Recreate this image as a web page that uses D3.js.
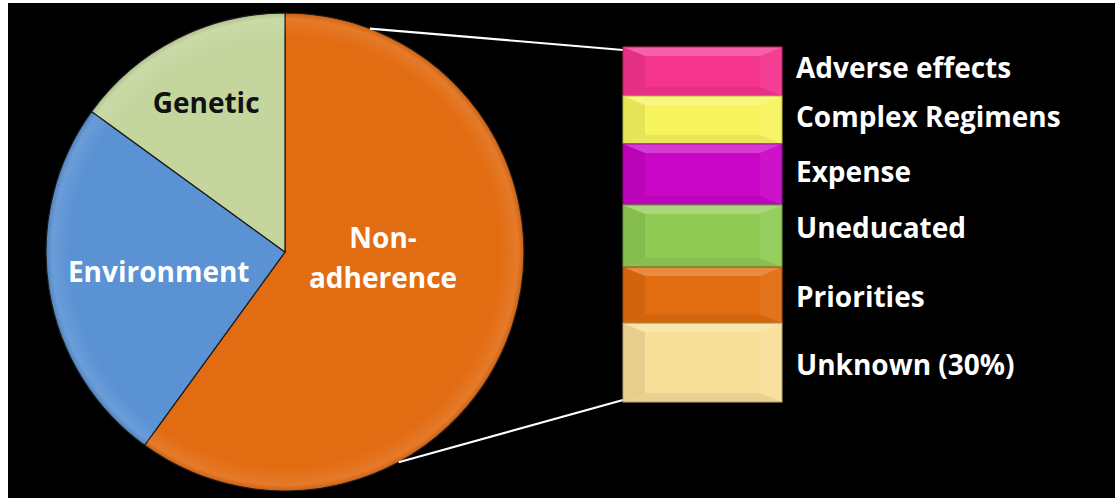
<!DOCTYPE html>
<html>
<head>
<meta charset="utf-8">
<script src="https://cdn.jsdelivr.net/npm/d3@7"></script>
<style>
  html, body { margin: 0; padding: 0; background: #ffffff; }
  svg { display: block; }
  text { font-family: "Open Sans", "Noto Sans", sans-serif; font-weight: 700; }
</style>
</head>
<body>
<svg id="chart" width="1115" height="498"></svg>
<script>
// ---- data ----
const pieCategories = ["Non-adherence", "Environment", "Genetic"];
const pieValues = [60, 25, 15];
const pieColors = ["#E26C12", "#5A92D4", "#C4D69E"];
const pieLabelColors = ["#ffffff", "#ffffff", "#111111"];

const barCategories = ["Adverse effects", "Complex Regimens", "Expense", "Uneducated", "Priorities", "Unknown (30%)"];
const barValues = [13.8, 13.5, 17.2, 17.5, 15.8, 22.2];
const barColors = ["#F5348E", "#F7F55E", "#C905C6", "#90CC55", "#E26C10", "#F8DF98"];

// ---- layout ----
const W = 1115, H = 498;
const svg = d3.select("#chart");
svg.append("rect").attr("x", 8).attr("y", 3).attr("width", W - 8).attr("height", H - 3).attr("fill", "#000");

const cx = 285, cy = 252, R = 239;
const defs = svg.append("defs");

const pie = d3.pie().sort(null).startAngle(0).endAngle(2 * Math.PI);
const arcs = pie(pieValues);
const arc = d3.arc().innerRadius(0).outerRadius(R);

const gPie = svg.append("g").attr("transform", `translate(${cx},${cy})`);
gPie.selectAll("path.slice").data(arcs).join("path")
  .attr("class", "slice")
  .attr("d", arc)
  .attr("fill", (d, i) => pieColors[i])
  .attr("stroke", "#1a1a1a").attr("stroke-width", 1.2);

const rg2 = defs.append("radialGradient").attr("id", "rimLocal")
  .attr("gradientUnits", "userSpaceOnUse").attr("cx", 0).attr("cy", 0).attr("r", R);
rg2.append("stop").attr("offset", "0.90").attr("stop-color", "#fff").attr("stop-opacity", 0);
rg2.append("stop").attr("offset", "0.975").attr("stop-color", "#fff").attr("stop-opacity", 0.10);
rg2.append("stop").attr("offset", "1").attr("stop-color", "#000").attr("stop-opacity", 0.10);
gPie.selectAll("path.rim").data(arcs).join("path")
  .attr("class", "rim").attr("d", arc).attr("fill", "url(#rimLocal)").attr("stroke", "none");

// pie labels: anchor = (angle offset from slice mid, radius factor)
const labelPlacement = [[-0.253, 0.411], [0, 0.535], [-0.016, 0.705]];
const labelLines = [["Non-", "adherence"], ["Environment"], ["Genetic"]];
arcs.forEach((d, i) => {
  const mid = (d.startAngle + d.endAngle) / 2 + labelPlacement[i][0];
  const [lx, ly] = d3.pointRadial(mid, R * labelPlacement[i][1]);
  const t = gPie.append("text")
    .attr("text-anchor", "middle")
    .attr("font-size", 28)
    .attr("fill", pieLabelColors[i]);
  const lines = labelLines[i];
  const lh = 40;
  lines.forEach((s, j) => {
    t.append("tspan").attr("x", lx)
      .attr("y", ly + (j - (lines.length - 1) / 2) * lh + 10)
      .text(s);
  });
});

// ---- stacked bar ----
const bx0 = 623, bx1 = 782;
const total = d3.sum(barValues);
const y = d3.scaleLinear().domain([0, total]).range([47, 402]);
const cum = d3.cumsum(barValues);
const segs = barValues.map((v, i) => ({ v, i, y0: y(cum[i] - v), y1: y(cum[i]) }));

// connector lines
const connAngles = [0.363, 2.646];
const p1 = d3.pointRadial(connAngles[0], R);
const p2 = d3.pointRadial(connAngles[1], R);
svg.append("line").attr("x1", cx + p1[0]).attr("y1", cy + p1[1]).attr("x2", bx0).attr("y2", y(0) + 3)
  .attr("stroke", "#fff").attr("stroke-width", 2.2);
svg.append("line").attr("x1", cx + p2[0]).attr("y1", cy + p2[1]).attr("x2", bx0).attr("y2", y(total) - 2)
  .attr("stroke", "#fff").attr("stroke-width", 2.2);

const gBar = svg.append("g");
segs.forEach(s => {
  const g = gBar.append("g");
  const h = s.y1 - s.y0;
  g.append("rect").attr("x", bx0).attr("y", s.y0).attr("width", bx1 - bx0).attr("height", h)
    .attr("fill", barColors[s.i]);
  const b = 22, bt = 9;
  // top bevel (lighter)
  g.append("path").attr("d", `M${bx0},${s.y0}L${bx1},${s.y0}L${bx1 - b},${s.y0 + bt}L${bx0 + b},${s.y0 + bt}Z`)
    .attr("fill", "#fff").attr("opacity", 0.22);
  // left bevel (darker)
  g.append("path").attr("d", `M${bx0},${s.y0}L${bx0 + b},${s.y0 + bt}L${bx0 + b},${s.y1 - bt}L${bx0},${s.y1}Z`)
    .attr("fill", "#000").attr("opacity", 0.07);
  // right bevel (slight lighter)
  g.append("path").attr("d", `M${bx1},${s.y0}L${bx1 - b},${s.y0 + bt}L${bx1 - b},${s.y1 - bt}L${bx1},${s.y1}Z`)
    .attr("fill", "#fff").attr("opacity", 0.06);
  // bottom bevel (darker)
  g.append("path").attr("d", `M${bx0},${s.y1}L${bx1},${s.y1}L${bx1 - b},${s.y1 - bt}L${bx0 + b},${s.y1 - bt}Z`)
    .attr("fill", "#000").attr("opacity", 0.06);
  g.append("rect").attr("x", bx0).attr("y", s.y0).attr("width", bx1 - bx0).attr("height", h)
    .attr("fill", "none").attr("stroke", d3.color(barColors[s.i]).darker(0.8)).attr("stroke-width", 1);
});

// bar labels (baseline nudge relative to segment centre)
const labelNudge = [7, 7, 8, 2, 12, 12];
gBar.selectAll("text.bl").data(segs).join("text")
  .attr("class", "bl")
  .attr("x", 796)
  .attr("y", d => (d.y0 + d.y1) / 2 + labelNudge[d.i])
  .attr("font-size", 28)
  .attr("fill", "#fff")
  .text(d => barCategories[d.i]);
</script>
</body>
</html>
